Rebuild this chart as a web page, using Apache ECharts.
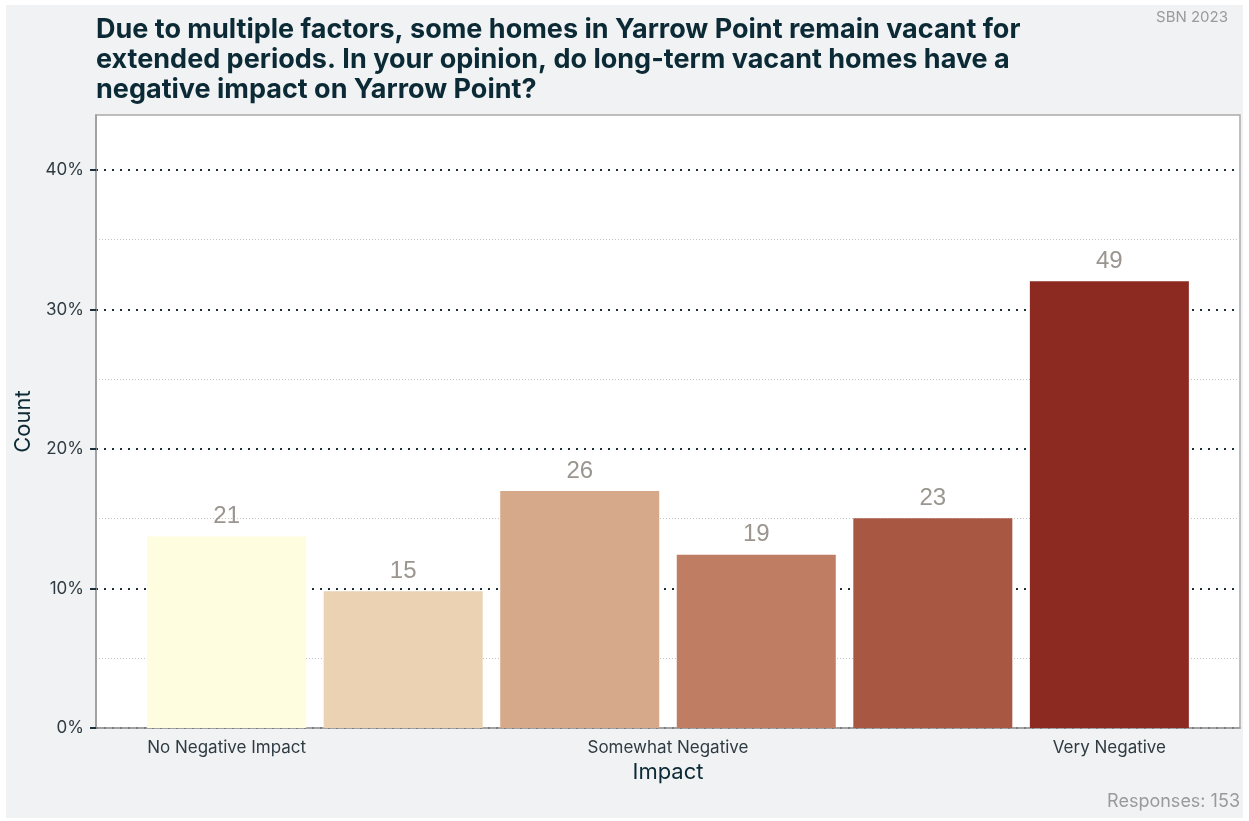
<!DOCTYPE html>
<html>
<head>
<meta charset="utf-8">
<script src="https://cdn.jsdelivr.net/npm/echarts@6/dist/echarts.min.js"></script>
<style>
html,body{margin:0;padding:0;background:#fff;}
#chart{width:1249px;height:821px;}
</style>
</head>
<body>
<div id="chart"></div>
<script>
// ---- data ----
const barPositions = [1, 2, 3, 4, 5, 6];
const counts = [21, 15, 26, 19, 23, 49];
const barColors = ['#fefde0', '#ebd2b3', '#d7a98b', '#bf7e63', '#a85743', '#8c2a21'];
const xTickPositions = [1, 3.5, 6];
const xTickLabels = ['No Negative Impact', 'Somewhat Negative', 'Very Negative'];
const yTicks = [0, 0.1, 0.2, 0.3, 0.4];
const titleText = 'Due to multiple factors, some homes in Yarrow Point remain vacant for\nextended periods. In your opinion, do long-term vacant homes have a\nnegative impact on Yarrow Point?';
const total = counts.reduce((a, b) => a + b, 0);

const seriesData = barPositions.map((p, i) => ({
  value: [p, counts[i] / total],
  count: counts[i],
  itemStyle: { color: barColors[i] }
}));

const chart = echarts.init(document.getElementById('chart'), null, { renderer: 'canvas' });
const font = 'Inter, "Noto Sans", sans-serif';
chart.setOption({
  backgroundColor: '#ffffff',
  animation: false,
  graphic: [
    { type: 'rect', z: -10, shape: { x: 6, y: 5, width: 1237, height: 813 }, style: { fill: '#f0f2f3' } },
    { type: 'text', right: 21, top: 10, style: { text: 'SBN 2023', fill: '#9a9a9a', font: '15px ' + font } },
    { type: 'text', right: 9, top: 793, style: { text: 'Responses: ' + total, fill: '#9a9a9a', font: '18px ' + font } }
  ],
  title: {
    text: titleText,
    left: 91,
    top: 10,
    textStyle: { fontFamily: font, fontSize: 27, fontWeight: 'bold', color: '#0b2a35', lineHeight: 30 }
  },
  grid: {
    left: 96, top: 115, right: 9, bottom: 93,
    show: true, backgroundColor: '#ffffff', borderColor: '#aaaaaa', borderWidth: 1.5
  },
  xAxis: {
    type: 'value',
    min: 0.26, max: 6.74,
    name: 'Impact',
    nameLocation: 'middle',
    nameGap: 33,
    nameTextStyle: { fontFamily: font, fontSize: 22, color: '#0b2a35' },
    axisLine: { show: true, lineStyle: { color: '#999999', width: 1.5 } },
    axisTick: { show: false },
    splitLine: { show: false },
    axisLabel: {
      customValues: xTickPositions,
      formatter: v => { const i = xTickPositions.indexOf(v); return i >= 0 ? xTickLabels[i] : ''; },
      margin: 11,
      fontFamily: font, fontSize: 17, color: '#2f3b42'
    }
  },
  yAxis: {
    type: 'value',
    min: 0, max: 0.4394,
    interval: 0.1,
    name: 'Count',
    nameLocation: 'middle',
    nameGap: 58,
    nameTextStyle: { fontFamily: font, fontSize: 22, color: '#0b2a35' },
    axisLine: { show: true, lineStyle: { color: '#999999', width: 1.5 } },
    axisTick: { show: true, length: 6, lineStyle: { color: '#1b3038', width: 2 }, customValues: yTicks },
    axisLabel: {
      customValues: yTicks,
      formatter: v => Math.round(v * 100) + '%',
      margin: 12,
      fontFamily: font, fontSize: 17, color: '#2f3b42'
    },
    splitLine: { show: true, lineStyle: { color: '#1b3038', width: 2, type: [2, 6] } },
    minorTick: { show: false, splitNumber: 2 },
    minorSplitLine: { show: true, lineStyle: { color: '#c4c4c4', width: 1, type: [1, 2] } }
  },
  series: [{
    type: 'bar',
    barWidth: 159,
    data: seriesData,
    label: {
      show: true,
      position: 'top',
      distance: 8,
      formatter: p => p.data.count,
      fontFamily: '"Liberation Sans", Arial, sans-serif',
      fontSize: 24,
      color: '#9a958f'
    }
  }]
});
</script>
</body>
</html>
